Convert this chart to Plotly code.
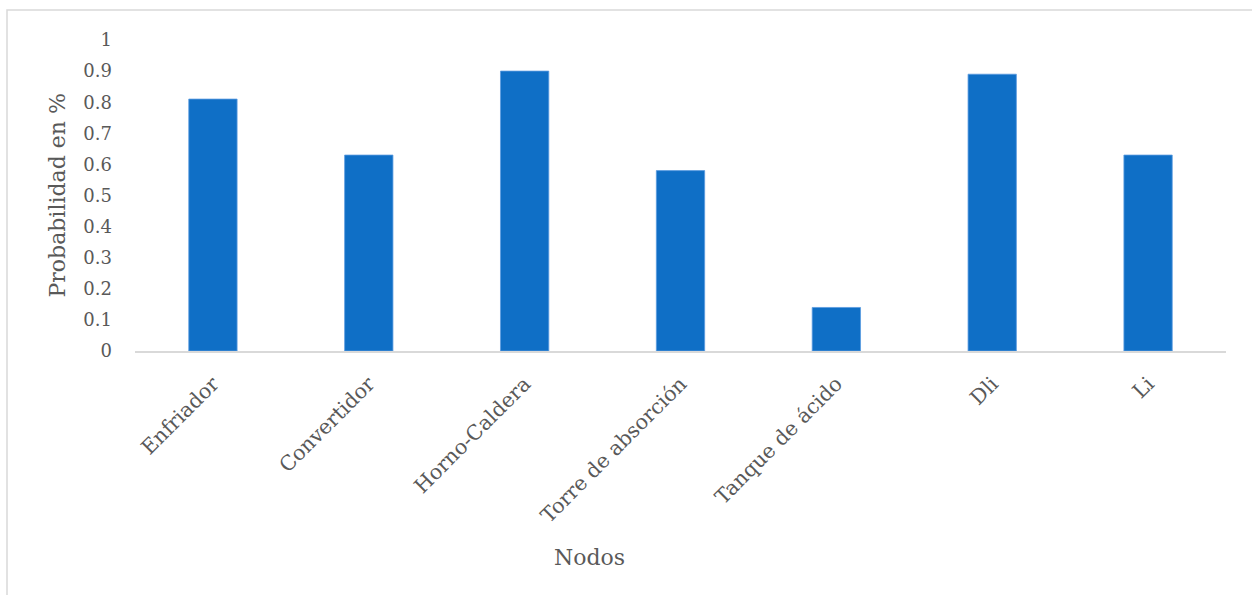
import plotly.graph_objects as go

# Probability per node
nodos = ["Enfriador", "Convertidor", "Horno-Caldera", "Torre de absorción",
         "Tanque de ácido", "Dli", "Li"]
probabilidad = [0.81, 0.63, 0.90, 0.58, 0.14, 0.89, 0.63]
y_ticks = [0, 0.1, 0.2, 0.3, 0.4, 0.5, 0.6, 0.7, 0.8, 0.9, 1]
y_tick_text = ["0", "0.1", "0.2", "0.3", "0.4", "0.5", "0.6", "0.7", "0.8", "0.9", "1"]

W, H = 1252, 595
L, R, T, B = 135, 26, 40, 244
pw, ph = W - L - R, H - T - B

font_family = "DejaVu Serif"
grey = "#595959"

fig = go.Figure(go.Bar(
    x=nodos, y=probabilidad,
    marker=dict(color="#0F6FC6", line=dict(color="#5B9BE0", width=0.8)),
    width=0.31,
))

fig.update_layout(
    width=W, height=H,
    margin=dict(l=L, r=R, t=T, b=B, pad=0),
    paper_bgcolor="white", plot_bgcolor="white",
    showlegend=False,
    font=dict(family=font_family, color=grey),
    xaxis=dict(
        showgrid=False, zeroline=False,
        showline=True, linecolor="#d9d9d9", linewidth=1.5,
        tickangle=-45, tickfont=dict(size=20.5, color=grey),
        ticks="", ticklabelstandoff=11,
    ),
    yaxis=dict(
        range=[0, 1], showgrid=False, zeroline=False, showline=False,
        tickvals=y_ticks, ticktext=y_tick_text,
        tickfont=dict(size=18, color=grey),
        ticks="", ticklabelstandoff=22,
    ),
)

# Axis titles
fig.add_annotation(
    text="Probabilidad en %", textangle=-90,
    xref="paper", yref="paper",
    x=(57 - L) / pw, y=0.5, xanchor="center", yanchor="middle",
    showarrow=False, font=dict(size=22, color=grey, family=font_family),
)
fig.add_annotation(
    text="Nodos",
    xref="paper", yref="paper",
    x=(589 - L) / pw, y=(H - B - 557) / ph, xanchor="center", yanchor="middle",
    showarrow=False, font=dict(size=22, color=grey, family=font_family),
)

# Chart-area frame
fig.add_shape(
    type="rect", xref="paper", yref="paper",
    x0=(7 - L) / pw, x1=(W + 20 - L) / pw,
    y0=-(B + 20) / ph, y1=1 + (T - 10) / ph,
    line=dict(color="#d9d9d9", width=1.5), fillcolor="rgba(0,0,0,0)",
    layer="below",
)

fig.write_html("out.html")
